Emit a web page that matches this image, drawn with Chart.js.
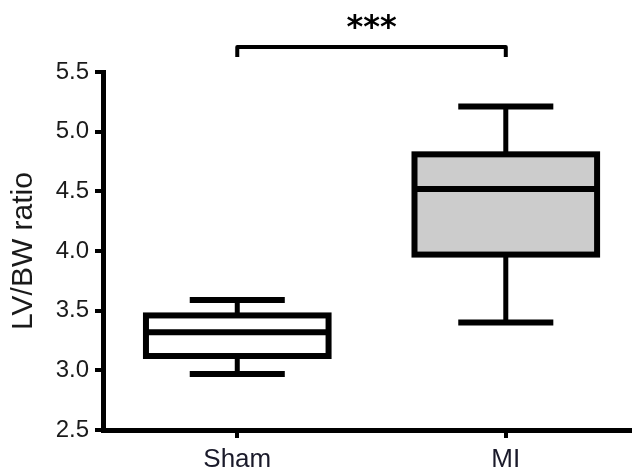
<!DOCTYPE html>
<html lang="en">
<head>
    <meta charset="UTF-8">
    <title>LV/BW ratio</title>
    <style>
        body { margin: 0; background: #fff; }
        canvas { display: block; }
    </style>
    <script src="https://cdn.jsdelivr.net/npm/chart.js"></script>
</head>
<body>
    <canvas id="chart" width="632" height="470"></canvas>

    <script>
        // box plot values
        const groups = ['Sham', 'MI'];
        const groupPos = [1, 2];
        const whiskerLow = [2.97, 3.40];
        const q1 = [3.12, 3.97];
        const median = [3.32, 4.52];
        const q3 = [3.46, 4.81];
        const whiskerHigh = [3.59, 5.21];
        const boxFill = ['#ffffff', '#cccccc'];
        const yTicks = [2.5, 3.0, 3.5, 4.0, 4.5, 5.0, 5.5];
        const sigText = '***';
        const sigBracketAt = 5.71;
        const sigTextAt = 5.79;

        const fontFamily = 'Arial, "Liberation Sans", sans-serif';

        // median, whiskers, caps, box outline and the significance bracket
        const boxPlotLines = {
            id: 'boxPlotLines',
            afterDatasetsDraw(chart) {
                const ctx = chart.ctx;
                const x = chart.scales.x;
                const y = chart.scales.y;
                const meta = chart.getDatasetMeta(0);
                const unit = x.getPixelForValue(2) - x.getPixelForValue(1);
                const capHalf = unit * 0.177;

                ctx.save();
                ctx.strokeStyle = '#000';
                ctx.lineCap = 'butt';

                meta.data.forEach((bar, i) => {
                    const p = bar.getProps(['x', 'y', 'base', 'width'], true);
                    const cx = p.x;
                    const half = p.width / 2;

                    // whiskers
                    ctx.lineWidth = 5;
                    ctx.beginPath();
                    ctx.moveTo(cx, y.getPixelForValue(q3[i]));
                    ctx.lineTo(cx, y.getPixelForValue(whiskerHigh[i]));
                    ctx.moveTo(cx, y.getPixelForValue(q1[i]));
                    ctx.lineTo(cx, y.getPixelForValue(whiskerLow[i]));
                    ctx.stroke();

                    // caps
                    ctx.lineWidth = 6;
                    ctx.beginPath();
                    ctx.moveTo(cx - capHalf, y.getPixelForValue(whiskerHigh[i]));
                    ctx.lineTo(cx + capHalf, y.getPixelForValue(whiskerHigh[i]));
                    ctx.moveTo(cx - capHalf, y.getPixelForValue(whiskerLow[i]));
                    ctx.lineTo(cx + capHalf, y.getPixelForValue(whiskerLow[i]));
                    ctx.stroke();

                    // box outline
                    ctx.lineJoin = 'miter';
                    ctx.strokeRect(cx - half, p.y, p.width, p.base - p.y);

                    // median
                    ctx.beginPath();
                    ctx.moveTo(cx - half, y.getPixelForValue(median[i]));
                    ctx.lineTo(cx + half, y.getPixelForValue(median[i]));
                    ctx.stroke();
                });

                // significance bracket
                const x1 = x.getPixelForValue(groupPos[0]);
                const x2 = x.getPixelForValue(groupPos[1]);
                const by = y.getPixelForValue(sigBracketAt);
                ctx.lineWidth = 4;
                ctx.lineJoin = 'round';
                ctx.beginPath();
                ctx.moveTo(x1, by + 10);
                ctx.lineTo(x1, by);
                ctx.lineTo(x2, by);
                ctx.lineTo(x2, by + 10);
                ctx.stroke();

                ctx.fillStyle = '#000';
                ctx.font = 'bold 32px "DejaVu Sans", sans-serif';
                ctx.textAlign = 'center';
                ctx.textBaseline = 'alphabetic';
                ctx.fillText(sigText, (x1 + x2) / 2, y.getPixelForValue(sigTextAt));
                ctx.restore();
            }
        };

        const ctx = document.getElementById('chart').getContext('2d');
        new Chart(ctx, {
            type: 'bar',
            data: {
                datasets: [{
                    data: groupPos.map((g, i) => ({ x: g, y: [q1[i], q3[i]] })),
                    backgroundColor: boxFill,
                    borderWidth: 0,
                    categoryPercentage: 1,
                    barPercentage: 0.68,
                }],
            },
            options: {
                responsive: false,
                animation: false,
                layout: { padding: { top: 72, right: 0, left: 0, bottom: 0 } },
                plugins: {
                    legend: { display: false },
                    tooltip: { enabled: false },
                },
                scales: {
                    x: {
                        type: 'linear',
                        min: 0.5,
                        max: 2.47,
                        offset: false,
                        afterBuildTicks: (scale) => {
                            scale.ticks = groupPos.map(v => ({ value: v }));
                        },
                        afterFit: (scale) => { scale.height = 40; },
                        grid: {
                            offset: false,
                            drawOnChartArea: false,
                            drawTicks: true,
                            tickLength: 8,
                            lineWidth: 4,
                            color: '#000',
                        },
                        border: { display: true, width: 5, color: '#000' },
                        ticks: {
                            padding: 6,
                            color: '#1a1a2a',
                            font: { family: fontFamily, size: 26 },
                            callback: (v) => groups[groupPos.indexOf(v)],
                        },
                    },
                    y: {
                        min: 2.5,
                        max: 5.5,
                        afterBuildTicks: (scale) => {
                            scale.ticks = yTicks.map(v => ({ value: v }));
                        },
                        afterFit: (scale) => { scale.width = 103; },
                        grid: {
                            drawOnChartArea: false,
                            drawTicks: true,
                            tickLength: 8,
                            lineWidth: 4,
                            color: '#000',
                        },
                        border: { display: true, width: 5, color: '#000' },
                        ticks: {
                            padding: 6,
                            color: '#1a1a1a',
                            font: { family: fontFamily, size: 24 },
                            callback: (v) => v.toFixed(1),
                        },
                        title: {
                            display: true,
                            text: 'LV/BW ratio',
                            color: '#1a1a1a',
                            font: { family: fontFamily, size: 30 },
                            padding: { top: 6, bottom: 0 },
                        },
                    },
                },
            },
            plugins: [boxPlotLines],
        });
    </script>
</body>
</html>
